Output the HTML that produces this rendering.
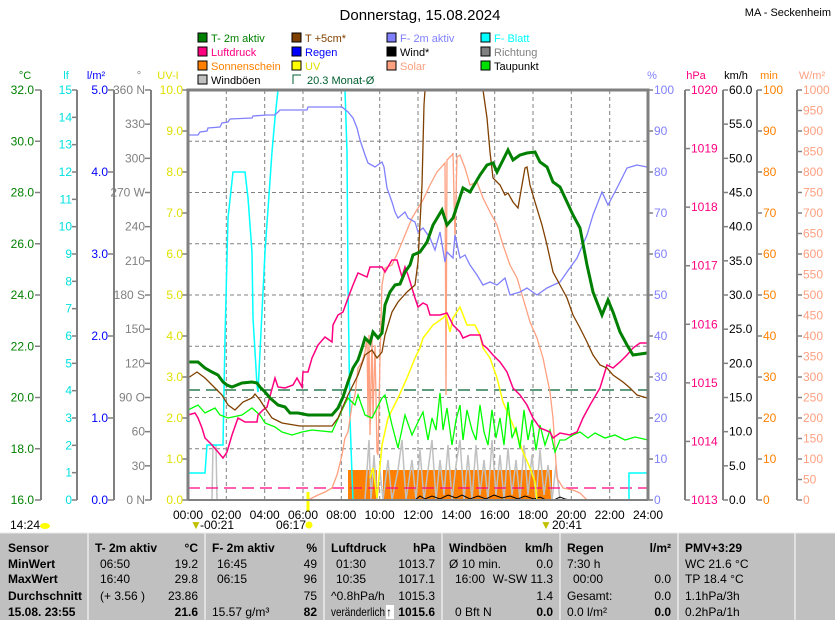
<!DOCTYPE html>
<html><head><meta charset="utf-8"><style>
html,body{margin:0;padding:0;background:#fff;}
svg{display:block;font-family:"Liberation Sans",sans-serif;}
</style></head><body>
<svg width="835" height="620" viewBox="0 0 835 620" xmlns="http://www.w3.org/2000/svg">
<rect width="835" height="620" fill="#fff"/>
<text x="420" y="20" font-size="15" text-anchor="middle" fill="#000">Donnerstag, 15.08.2024</text>
<text x="831" y="16" font-size="11" text-anchor="end" fill="#000">MA - Seckenheim</text>

<g font-size="11">
<rect x="198" y="33" width="9" height="9" fill="#008000" stroke="#000" stroke-width="1"/><text x="211" y="42" fill="#008000">T- 2m aktiv</text>
<rect x="292" y="33" width="9" height="9" fill="#804000" stroke="#000"/><text x="305" y="42" fill="#804000">T +5cm*</text>
<rect x="387" y="33" width="9" height="9" fill="#8080ff" stroke="#000"/><text x="400" y="42" fill="#8080ff">F- 2m aktiv</text>
<rect x="481" y="33" width="9" height="9" fill="#00ffff" stroke="#000"/><text x="494" y="42" fill="#00ffff">F- Blatt</text>
<rect x="198" y="47" width="9" height="9" fill="#ff0080" stroke="#000"/><text x="211" y="56" fill="#ff0080">Luftdruck</text>
<rect x="292" y="47" width="9" height="9" fill="#0000ff" stroke="#000"/><text x="305" y="56" fill="#0000ff">Regen</text>
<rect x="387" y="47" width="9" height="9" fill="#000" stroke="#000"/><text x="400" y="56" fill="#000">Wind*</text>
<rect x="481" y="47" width="9" height="9" fill="#808080" stroke="#000"/><text x="494" y="56" fill="#808080">Richtung</text>
<rect x="198" y="61" width="9" height="9" fill="#ff8000" stroke="#000"/><text x="211" y="70" fill="#ff8000">Sonnenschein</text>
<rect x="292" y="61" width="9" height="9" fill="#ffff00" stroke="#000"/><text x="305" y="70" fill="#e0e000">UV</text>
<rect x="387" y="61" width="9" height="9" fill="#ffa080" stroke="#000"/><text x="400" y="70" fill="#ffa080">Solar</text>
<rect x="481" y="61" width="9" height="9" fill="#00e000" stroke="#000"/><text x="494" y="70" fill="#000">Taupunkt</text>
<rect x="198" y="75" width="9" height="9" fill="#c0c0c0" stroke="#000"/><text x="211" y="84" fill="#000">Windböen</text>
<path d="M293 84 V75 H301" fill="none" stroke="#006030"/><text x="307" y="84" fill="#006030">20.3 Monat-Ø</text>
</g>

<g font-size="11">
<text x="25" y="79" fill="#008000" text-anchor="middle">°C</text>
<text x="66" y="79" fill="#00e0e0" text-anchor="middle">lf</text>
<text x="96" y="79" fill="#0000ff" text-anchor="middle">l/m²</text>
<text x="139" y="79" fill="#808080" text-anchor="middle">°</text>
<text x="168" y="79" fill="#e0e000" text-anchor="middle">UV-I</text>
<text x="652" y="79" fill="#8080ff" text-anchor="middle">%</text>
<text x="696" y="79" fill="#ff0080" text-anchor="middle">hPa</text>
<text x="736" y="79" fill="#000" text-anchor="middle">km/h</text>
<text x="769" y="79" fill="#ff8000" text-anchor="middle">min</text>
<text x="812" y="79" fill="#ffa080" text-anchor="middle">W/m²</text>
</g>

<g stroke="#808080" stroke-width="2">
<line x1="41" y1="90" x2="41" y2="500"/>
<line x1="77" y1="90" x2="77" y2="500"/>
<line x1="114" y1="90" x2="114" y2="500"/>
<line x1="151" y1="90" x2="151" y2="500"/>
<line x1="685" y1="90" x2="685" y2="500"/>
<line x1="723" y1="90" x2="723" y2="500"/>
<line x1="757" y1="90" x2="757" y2="500"/>
<line x1="797" y1="90" x2="797" y2="500"/>
</g>

<g id="axes" font-size="12"></g>

<g stroke="#808080" stroke-dasharray="4,3" stroke-width="1">
<line x1="226.3" y1="90" x2="226.3" y2="500"/><line x1="264.7" y1="90" x2="264.7" y2="500"/>
<line x1="303" y1="90" x2="303" y2="500"/><line x1="341.3" y1="90" x2="341.3" y2="500"/>
<line x1="379.7" y1="90" x2="379.7" y2="500"/><line x1="418" y1="90" x2="418" y2="500"/>
<line x1="456.3" y1="90" x2="456.3" y2="500"/><line x1="494.7" y1="90" x2="494.7" y2="500"/>
<line x1="533" y1="90" x2="533" y2="500"/><line x1="571.3" y1="90" x2="571.3" y2="500"/>
<line x1="609.7" y1="90" x2="609.7" y2="500"/>
<line x1="188" y1="141.25" x2="648" y2="141.25"/><line x1="188" y1="192.5" x2="648" y2="192.5"/>
<line x1="188" y1="243.75" x2="648" y2="243.75"/><line x1="188" y1="295" x2="648" y2="295"/>
<line x1="188" y1="346.25" x2="648" y2="346.25"/><line x1="188" y1="397.5" x2="648" y2="397.5"/>
<line x1="188" y1="448.75" x2="648" y2="448.75"/>
</g>

<path d="M348 500 V470 H377 V500 H383 V470 H552 V500 Z" fill="#ff8000"/>
<polyline fill="none" stroke="#c0c0c0" stroke-width="1.5" points="212,500 213,445 216,445 217,500 365,500 367,470 369,440 371,500 374,455 377,500 380,470 383,500 388,460 392,500 398,470 402,440 406,500 412,460 416,500 420,450 424,500 428,470 432,440 436,500 440,460 444,495 448,445 452,500 456,465 460,440 464,500 468,455 472,500 476,445 480,495 484,460 488,500 492,440 496,495 500,455 504,500 508,448 512,495 516,460 520,500 524,445 528,495 532,455 536,500 540,450 544,495 548,465 552,500 556,465 560,500"/>
<polyline fill="none" stroke="#000" stroke-width="1" points="415,500 420,496 425,499 432,496 440,499 448,495 456,498 462,495 470,499 478,496 486,499 494,495 502,498 510,496 518,499 525,496 534,499 540,497 546,500 554,500 560,497 565,499 570,500"/>
<line x1="188" y1="390" x2="648" y2="390" stroke="#006030" stroke-dasharray="12,6" stroke-width="1.3"/>
<line x1="188" y1="488" x2="648" y2="488" stroke="#ff0080" stroke-dasharray="12,6" stroke-width="1.3"/>
<!-- cyan lf -->
<polyline fill="none" stroke="#00ffff" stroke-width="1.5" points="188,473 205,473 207,445 223,445 225,338 228,218 233,172 245,172 248,198 252,252 253,318 257,385 258,392 260,352 265,252 272,152 275,118 278,90 345,90 347,152 348,285 350,418 352,475 353,500"/>
<polyline fill="none" stroke="#00ffff" stroke-width="1.5" points="629,500 629,473 648,473"/>
<!-- solar -->
<polyline fill="none" stroke="#ffa080" stroke-width="1.3" points="188,500 308,500 318,495 325,492 332,488 337,475 342,455 345,438 348,432 352,405 355,395 358,368 362,362 365,352 367,338 368,418 369,335 370,435 372,338 373,418 375,345 377,452 378,455 380,358 382,285 385,268 392,265 398,252 405,235 412,218 418,208 423,200 430,185 437,172 445,163 446,395 447,160 452,155 453,153 455,238 457,157 460,155 465,168 470,185 477,182 483,198 490,212 497,225 503,245 510,265 517,278 523,298 530,322 537,338 543,358 550,392 553,418 557,478 563,488 573,490 580,493 587,500 648,500"/>
<!-- UV -->
<polyline fill="none" stroke="#ffff00" stroke-width="1.5" points="370,478 373,468 377,498 382,445 388,418 398,398 407,378 415,358 420,348 423,338 433,325 443,318 446,315 450,332 453,318 460,307 467,325 475,325 480,335 483,348 490,358 497,378 503,402 510,418 517,435 523,452 530,468 535,482 537,500"/>
<line x1="308" y1="492" x2="308" y2="512" stroke="#ffff00" stroke-width="3"/>
<!-- dew point -->
<polyline fill="none" stroke="#00ff00" stroke-width="1.3" points="188,410 198,405 205,413 215,408 220,415 228,418 242,415 252,408 260,415 265,423 275,427 282,432 292,435 302,432 312,430 332,432 343,408 348,398 355,405 358,395 365,415 372,418 382,398 385,395 392,425 398,448 405,415 412,435 418,422 423,412 428,440 432,418 436,430 440,393 443,430 447,408 452,445 456,420 460,405 463,440 467,410 472,430 476,440 480,405 484,432 488,445 492,410 496,438 500,418 504,445 508,402 512,438 516,428 520,448 524,410 528,440 532,420 536,450 540,425 545,445 550,430 555,452 560,440 565,440 573,435 580,432 588,438 595,433 605,438 615,435 625,440 635,437 648,440"/>
<!-- humidity -->
<polyline fill="none" stroke="#8080ff" stroke-width="1.3" points="188,135 198,135 200,132 207,131 208,128 220,127 222,123 228,122 230,119 252,118 253,116 267,115 275,115 280,110 307,110 308,107 342,107 348,112 353,118 357,128 360,140 365,155 368,163 375,167 382,162 384,167 387,188 392,202 395,212 398,218 405,212 408,218 415,222 418,232 423,228 430,238 435,250 440,232 445,262 447,252 453,258 455,235 460,258 465,255 470,265 477,275 483,285 490,282 497,285 505,278 510,295 520,292 527,288 537,295 547,288 560,282 567,272 577,258 587,235 593,215 602,192 608,205 617,188 627,168 637,165 647,167"/>
<!-- pressure -->
<polyline fill="none" stroke="#ff0080" stroke-width="1.5" points="188,415 195,413 198,418 202,428 205,438 212,445 218,452 223,458 227,452 232,435 238,418 245,422 257,422 258,415 263,410 267,407 275,378 278,387 285,388 293,385 297,378 302,387 303,372 308,372 312,358 318,345 325,337 332,342 333,325 338,315 343,312 348,298 353,285 358,273 367,277 370,267 382,267 385,272 392,260 397,260 402,277 405,267 408,275 415,298 418,307 423,303 427,305 430,315 440,315 447,313 453,325 460,332 463,338 470,335 480,335 483,345 487,348 493,355 500,362 507,372 513,388 520,395 527,405 533,418 540,428 550,432 553,438 560,433 570,435 577,432 583,418 590,405 600,388 607,365 613,368 620,362 627,355 633,348 640,343 647,343"/>
<!-- T+5cm -->
<polyline fill="none" stroke="#804000" stroke-width="1.3" points="188,378 197,372 205,378 215,388 222,395 228,405 235,410 243,402 252,398 255,394 260,400 265,408 272,418 282,423 300,426 332,426 338,418 348,395 358,375 365,355 372,350 377,358 382,352 385,335 392,312 398,302 407,292 415,285 418,262 422,185 424,105 425,90"/>
<polyline fill="none" stroke="#804000" stroke-width="1.3" points="483,90 487,118 490,152 493,178 500,185 505,195 508,193 513,202 518,208 522,185 525,168 527,167 530,185 535,202 542,225 547,245 553,272 560,285 567,298 573,315 580,328 587,342 593,355 600,365 607,368 613,375 623,382 630,388 637,395 647,398"/>
<!-- T-2m -->
<polyline fill="none" stroke="#008000" stroke-width="3" points="188,362 198,362 205,368 212,372 218,375 223,382 227,385 232,387 242,383 252,382 257,383 260,387 265,392 270,398 278,405 285,407 290,413 298,413 308,415 332,415 338,408 343,397 348,382 353,368 358,360 362,348 365,338 370,343 373,332 378,338 382,333 385,305 390,292 395,285 400,284 405,272 410,265 413,255 420,252 427,242 433,225 442,210 447,225 453,218 463,188 470,192 480,175 487,165 493,163 497,172 508,150 513,160 520,155 527,153 535,152 540,162 547,167 553,182 560,187 567,202 573,215 580,228 587,265 593,292 602,315 608,300 613,312 620,332 627,345 633,355 647,353"/>

<path d="M188 500 V90 H648 V500" fill="none" stroke="#808080" stroke-width="3"/>
<line x1="188" y1="500" x2="648" y2="500" stroke="#808080" stroke-width="2"/>

<g font-size="12" text-anchor="middle" fill="#000">
<text x="188" y="519">00:00</text><text x="226.3" y="519">02:00</text><text x="264.7" y="519">04:00</text>
<text x="303" y="519">06:00</text><text x="341.3" y="519">08:00</text><text x="379.7" y="519">10:00</text>
<text x="418" y="519">12:00</text><text x="456.3" y="519">14:00</text><text x="494.7" y="519">16:00</text>
<text x="533" y="519">18:00</text><text x="571.3" y="519">20:00</text><text x="609.7" y="519">22:00</text>
<text x="648" y="519">24:00</text>
</g>
<g font-size="12" fill="#000">
<text x="10" y="529">14:24</text><ellipse cx="45" cy="526" rx="5" ry="3" fill="#ffff00"/>
<text x="190" y="529" fill="#c0c000">▼</text><text x="200" y="529">-00:21</text>
<text x="276" y="529">06:17</text><circle cx="309" cy="525" r="3.5" fill="#ffff00"/>
<text x="540" y="529" fill="#c0c000">▼</text><text x="552" y="529">20:41</text>
</g>

<rect x="0" y="533" width="835" height="87" fill="#c0c0c0"/>
<line x1="0" y1="533" x2="835" y2="533" stroke="#e8e8e8"/>
<g stroke="#ececec" stroke-width="1.5">
<line x1="88" y1="533" x2="88" y2="620"/><line x1="205" y1="533" x2="205" y2="620"/>
<line x1="324" y1="533" x2="324" y2="620"/><line x1="442" y1="533" x2="442" y2="620"/>
<line x1="560" y1="533" x2="560" y2="620"/><line x1="678" y1="533" x2="678" y2="620"/>
<line x1="795" y1="533" x2="795" y2="620"/>
</g>
<g font-size="12" fill="#000">
<g font-weight="bold">
<text x="8" y="552">Sensor</text><text x="8" y="568">MinWert</text><text x="8" y="583">MaxWert</text><text x="8" y="600">Durchschnitt</text><text x="8" y="616">15.08. 23:55</text>
<text x="95" y="552">T- 2m aktiv</text><text x="198" y="552" text-anchor="end">°C</text>
<text x="212" y="552">F- 2m aktiv</text><text x="317" y="552" text-anchor="end">%</text>
<text x="331" y="552">Luftdruck</text><text x="435" y="552" text-anchor="end">hPa</text>
<text x="449" y="552">Windböen</text><text x="553" y="552" text-anchor="end">km/h</text>
<text x="567" y="552">Regen</text><text x="671" y="552" text-anchor="end">l/m²</text>
<text x="685" y="552">PMV+3:29</text>
<text x="198" y="616" text-anchor="end">21.6</text><text x="317" y="616" text-anchor="end">82</text>
<text x="435" y="616" text-anchor="end">1015.6</text><text x="553" y="616" text-anchor="end">0.0</text>
<text x="671" y="616" text-anchor="end">0.0</text>
</g>
<text x="100" y="568">06:50</text><text x="198" y="568" text-anchor="end">19.2</text>
<text x="100" y="583">16:40</text><text x="198" y="583" text-anchor="end">29.8</text>
<text x="100" y="600">(+ 3.56 )</text><text x="198" y="600" text-anchor="end">23.86</text>
<text x="217" y="568">16:45</text><text x="317" y="568" text-anchor="end">49</text>
<text x="217" y="583">06:15</text><text x="317" y="583" text-anchor="end">96</text>
<text x="317" y="600" text-anchor="end">75</text>
<text x="212" y="616">15.57 g/m³</text>
<text x="336" y="568">01:30</text><text x="435" y="568" text-anchor="end">1013.7</text>
<text x="336" y="583">10:35</text><text x="435" y="583" text-anchor="end">1017.1</text>
<text x="331" y="600">^0.8hPa/h</text><text x="435" y="600" text-anchor="end">1015.3</text>
<text x="331" y="616" textLength="54" lengthAdjust="spacingAndGlyphs">veränderlich</text><rect x="386" y="605" width="8" height="14" fill="#fff"/><text x="386" y="616" font-weight="bold">↑</text>
<text x="449" y="568">Ø 10 min.</text><text x="553" y="568" text-anchor="end">0.0</text>
<text x="455" y="583">16:00</text><text x="553" y="583" text-anchor="end">W-SW 11.3</text>
<text x="553" y="600" text-anchor="end">1.4</text>
<text x="455" y="616">0 Bft N</text>
<text x="567" y="568">7:30 h</text>
<text x="573" y="583">00:00</text><text x="671" y="583" text-anchor="end">0.0</text>
<text x="567" y="600">Gesamt:</text><text x="671" y="600" text-anchor="end">0.0</text>
<text x="567" y="616">0.0 l/m²</text>
<text x="685" y="568">WC 21.6 °C</text><text x="685" y="583">TP 18.4 °C</text>
<text x="685" y="600">1.1hPa/3h</text><text x="685" y="616">0.2hPa/1h</text>
</g>

<script>
(function(){
var g=document.getElementById('axes'),NS='http://www.w3.org/2000/svg';
function t(x,y,s,c,a){var e=document.createElementNS(NS,'text');e.setAttribute('x',x);e.setAttribute('y',y+4);e.setAttribute('fill',c);e.setAttribute('text-anchor',a);e.textContent=s;g.appendChild(e);}
function k(x1,x2,y){var e=document.createElementNS(NS,'line');e.setAttribute('x1',x1);e.setAttribute('x2',x2);e.setAttribute('y1',y);e.setAttribute('y2',y);e.setAttribute('stroke','#808080');e.setAttribute('stroke-width','1.5');g.appendChild(e);}
var i,y;
for(i=0;i<=8;i++){y=90+i*51.25;k(35,41,y);t(34,y,(32-2*i).toFixed(1),'#008000','end');}
for(i=0;i<=15;i++){y=90+i*410/15;k(72,77,y);t(72,y,String(15-i),'#00e0e0','end');}
for(i=0;i<=5;i++){y=90+i*82;k(108,114,y);t(108,y,(5-i).toFixed(1),'#0000ff','end');}
var d={360:'360 N',270:'270 W',180:'180 S',90:'90 O',0:'0 N'};
for(i=0;i<=12;i++){y=90+i*410/12;var v=360-30*i;k(145,151,y);t(145,y,d[v]||String(v),'#808080','end');}
for(i=0;i<=10;i++){y=90+i*41;k(182,188,y);t(183,y,(10-i).toFixed(1),'#e0e000','end');}
for(i=0;i<=10;i++){y=90+i*41;k(648,653,y);t(654,y,String(100-10*i),'#8080ff','start');}
for(i=0;i<=7;i++){y=90+i*410/7;k(685,690,y);t(691,y,String(1020-i),'#ff0080','start');}
for(i=0;i<=12;i++){y=90+i*410/12;k(723,728,y);t(729,y,(60-5*i).toFixed(1),'#000','start');}
for(i=0;i<=10;i++){y=90+i*41;k(757,762,y);t(763,y,String(100-10*i),'#ff8000','start');}
for(i=0;i<=20;i++){y=90+i*20.5;k(797,802,y);t(803,y,String(1000-50*i),'#ffa080','start');}
})();
</script>
</svg>
</body></html>
